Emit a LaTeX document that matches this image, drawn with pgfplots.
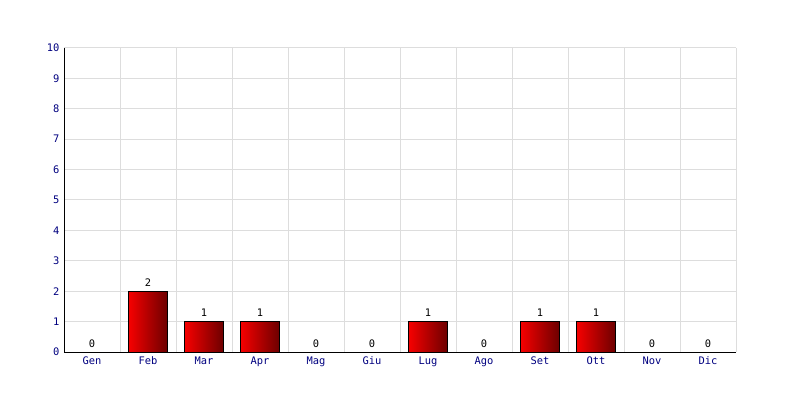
\documentclass[border=0pt]{standalone}
\usepackage{pgfplots}
\pgfplotsset{compat=1.18}
\usepackage{fontspec}
\setmainfont{DejaVu Sans Mono}
\definecolor{navy}{RGB}{0,0,128}
\definecolor{gridgray}{RGB}{221,221,221}
\definecolor{barL}{RGB}{245,0,0}
\definecolor{barR}{RGB}{110,0,0}
\begin{document}
\begin{tikzpicture}
\path[use as bounding box, fill=white] (-48pt,-36pt) rectangle (552pt,264pt);
\begin{axis}[at={(0,0)}, anchor=south west, scale only axis,
  width=504pt, height=228pt,
  xmin=-0.5, xmax=11.5, ymin=0, ymax=10,
  axis lines=left, axis line style={-, black, line width=0.75pt},
  xtick={0,...,11},
  xticklabels={Gen,Feb,Mar,Apr,Mag,Giu,Lug,Ago,Set,Ott,Nov,Dic},
  minor xtick={0.5,1.5,...,11.5},
  ytick={0,...,10},
  ymajorgrids, xminorgrids,
  grid style={gridgray, line width=0.75pt},
  minor grid style={gridgray, line width=0.75pt},
  major tick length=0, minor tick length=0,
  tick label style={font=\fontsize{7.8}{8}\selectfont, text=navy},
  /pgf/number format/assume math mode=true,
  ybar, bar width=0.68,
  nodes near coords,
  every node near coord/.append style={font=\fontsize{7.8}{8}\selectfont, text=black},
  barstyle/.style={draw=black, line width=0.75pt, left color=barL, right color=barR, bar shift=0pt},
]
\addplot[barstyle] coordinates {(1,2)};
\addplot[barstyle] coordinates {(2,1)};
\addplot[barstyle] coordinates {(3,1)};
\addplot[barstyle] coordinates {(6,1)};
\addplot[barstyle] coordinates {(8,1)};
\addplot[barstyle] coordinates {(9,1)};
\addplot[draw=none, fill=none, bar shift=0pt]
  coordinates {(0,0) (4,0) (5,0) (7,0) (10,0) (11,0)};
\end{axis}
\end{tikzpicture}
\end{document}
